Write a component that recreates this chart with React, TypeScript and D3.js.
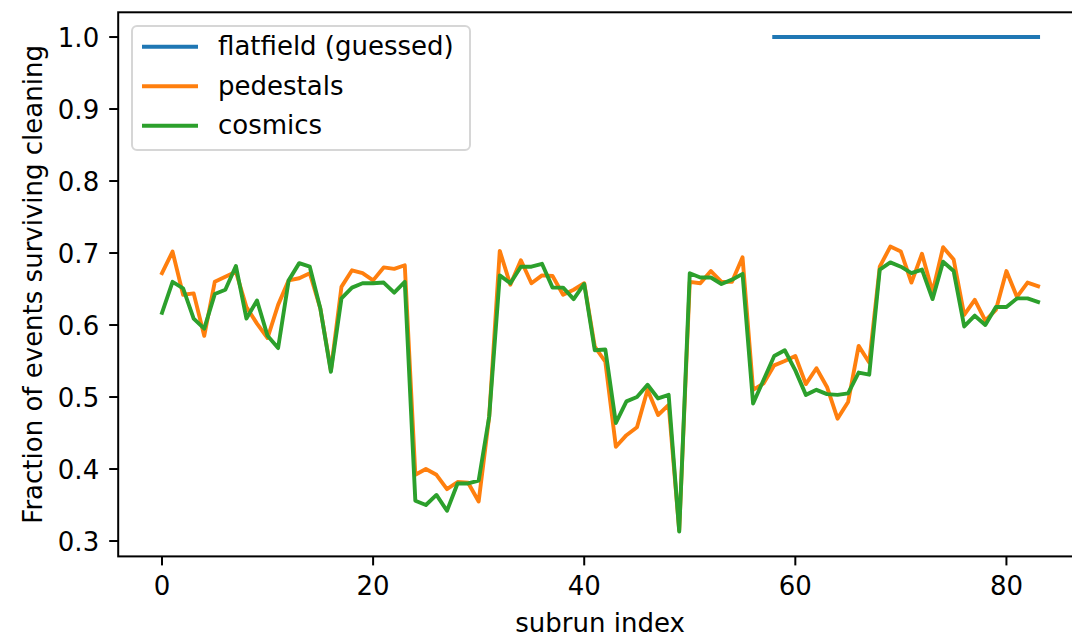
import { useEffect, useRef } from 'react';
import * as d3 from 'd3';

// values, index = subrun
const pedestals = [
  0.672, 0.702, 0.642, 0.644, 0.585, 0.660, 0.667, 0.674, 0.625, 0.602,
  0.582, 0.628, 0.662, 0.665, 0.672, 0.623, 0.537, 0.653, 0.676, 0.672,
  0.662, 0.680, 0.678, 0.683, 0.392, 0.400, 0.392, 0.372, 0.382, 0.381,
  0.355, 0.473, 0.703, 0.656, 0.690, 0.658, 0.669, 0.668, 0.642, 0.649,
  0.658, 0.570, 0.549, 0.431, 0.447, 0.458, 0.510, 0.475, 0.489, 0.315,
  0.660, 0.658, 0.675, 0.660, 0.660, 0.694, 0.510, 0.519, 0.544, 0.550,
  0.557, 0.518, 0.540, 0.514, 0.470, 0.493, 0.571, 0.548, 0.681, 0.709,
  0.702, 0.659, 0.699, 0.646, 0.708, 0.691, 0.614, 0.635, 0.606, 0.621,
  0.675, 0.639, 0.659, 0.654,
];

const cosmics = [
  0.617, 0.660, 0.651, 0.609, 0.595, 0.643, 0.649, 0.682, 0.609, 0.634,
  0.585, 0.568, 0.662, 0.686, 0.681, 0.623, 0.535, 0.637, 0.652, 0.658,
  0.658, 0.659, 0.645, 0.660, 0.356, 0.350, 0.364, 0.342, 0.380, 0.380,
  0.384, 0.473, 0.669, 0.658, 0.681, 0.681, 0.685, 0.652, 0.652, 0.636,
  0.657, 0.565, 0.566, 0.464, 0.494, 0.500, 0.517, 0.498, 0.503, 0.313,
  0.672, 0.666, 0.666, 0.657, 0.663, 0.671, 0.491, 0.524, 0.557, 0.565,
  0.537, 0.503, 0.510, 0.504, 0.503, 0.505, 0.534, 0.531, 0.677, 0.687,
  0.681, 0.672, 0.677, 0.636, 0.688, 0.675, 0.598, 0.613, 0.600, 0.625,
  0.625, 0.637, 0.637, 0.632,
];

// flatfield only exists from subrun 58 on
const flatfieldStart = 58;
const flatfield = [
  1.0, 1.0, 1.0, 1.0, 1.0, 1.0, 1.0, 1.0, 1.0, 1.0, 1.0, 1.0, 1.0,
  1.0, 1.0, 1.0, 1.0, 1.0, 1.0, 1.0, 1.0, 1.0, 1.0, 1.0, 1.0, 1.0,
];

const xTicks = [0, 20, 40, 60, 80];
const yTicks = [0.3, 0.4, 0.5, 0.6, 0.7, 0.8, 0.9, 1.0];

const seriesNames = ['flatfield (guessed)', 'pedestals', 'cosmics'];
const COLORS = ['#1f77b4', '#ff7f0e', '#2ca02c'];

const WIDTH = 1072;
const HEIGHT = 637;
const FONT = 'DejaVu Sans, sans-serif';

export default function App() {
  const svgRef = useRef<SVGSVGElement>(null);

  useEffect(() => {
    if (!svgRef.current) return;
    const svg = d3.select(svgRef.current);
    svg.selectAll('*').remove();

    // axes box (right edge falls outside the picture, like the reference)
    const left = 118.2;
    const right = 1081.9;
    const top = 12.3;
    const bottom = 556.4;

    const x = d3.scaleLinear().domain([-4.15, 87.15]).range([left, right]);
    const y = d3.scaleLinear().domain([0.27865, 1.03435]).range([bottom, top]);

    svg.append('rect').attr('width', WIDTH).attr('height', HEIGHT).attr('fill', '#fff');

    svg
      .append('clipPath')
      .attr('id', 'plot-clip')
      .append('rect')
      .attr('x', left)
      .attr('y', top)
      .attr('width', right - left)
      .attr('height', bottom - top);

    const line = d3
      .line<[number, number]>()
      .x((d) => x(d[0]))
      .y((d) => y(d[1]));

    const series: Array<Array<[number, number]>> = [
      flatfield.map((v, i) => [flatfieldStart + i, v]),
      pedestals.map((v, i) => [i, v]),
      cosmics.map((v, i) => [i, v]),
    ];

    const plot = svg.append('g').attr('clip-path', 'url(#plot-clip)');
    series.forEach((pts, i) => {
      plot
        .append('path')
        .attr('d', line(pts))
        .attr('fill', 'none')
        .attr('stroke', COLORS[i])
        .attr('stroke-width', 3.9)
        .attr('stroke-linejoin', 'round')
        .attr('stroke-linecap', 'square');
    });

    // spines
    svg
      .append('rect')
      .attr('x', left)
      .attr('y', top)
      .attr('width', right - left)
      .attr('height', bottom - top)
      .attr('fill', 'none')
      .attr('stroke', '#000')
      .attr('stroke-width', 2);

    // x ticks
    const xg = svg.append('g');
    xTicks.forEach((t) => {
      xg.append('line')
        .attr('x1', x(t))
        .attr('x2', x(t))
        .attr('y1', bottom)
        .attr('y2', bottom + 9)
        .attr('stroke', '#000')
        .attr('stroke-width', 2);
      xg.append('text')
        .attr('x', x(t))
        .attr('y', bottom + 38.5)
        .attr('text-anchor', 'middle')
        .style('font-family', FONT)
        .style('font-size', '26px')
        .text(String(t));
    });

    // y ticks
    const yg = svg.append('g');
    yTicks.forEach((t) => {
      yg.append('line')
        .attr('x1', left - 9)
        .attr('x2', left)
        .attr('y1', y(t))
        .attr('y2', y(t))
        .attr('stroke', '#000')
        .attr('stroke-width', 2);
      yg.append('text')
        .attr('x', left - 19)
        .attr('y', y(t) + 9.5)
        .attr('text-anchor', 'end')
        .style('font-family', FONT)
        .style('font-size', '26px')
        .text(t.toFixed(1));
    });

    // axis labels
    svg
      .append('text')
      .attr('x', (left + right) / 2)
      .attr('y', 631.5)
      .attr('text-anchor', 'middle')
      .style('font-family', FONT)
      .style('font-size', '26px')
      .text('subrun index');

    svg
      .append('text')
      .attr('transform', `translate(41.5, ${(top + bottom) / 2}) rotate(-90)`)
      .attr('text-anchor', 'middle')
      .style('font-family', FONT)
      .style('font-size', '26px')
      .text('Fraction of events surviving cleaning');

    // legend
    const legend = svg.append('g');
    legend
      .append('rect')
      .attr('x', 132)
      .attr('y', 26)
      .attr('width', 338)
      .attr('height', 124)
      .attr('rx', 5)
      .attr('fill', '#fff')
      .attr('fill-opacity', 0.8)
      .attr('stroke', '#d6d6d6')
      .attr('stroke-width', 2);

    seriesNames.forEach((name, i) => {
      const rowY = 46.7 + i * 39.5;
      legend
        .append('line')
        .attr('x1', 142)
        .attr('x2', 198)
        .attr('y1', rowY)
        .attr('y2', rowY)
        .attr('stroke', COLORS[i])
        .attr('stroke-width', 3.9);
      legend
        .append('text')
        .attr('x', 218)
        .attr('y', rowY + 8.7)
        .style('font-family', FONT)
        .style('font-size', '26px')
        .text(name);
    });
  }, []);

  return (
    <svg
      ref={svgRef}
      width={WIDTH}
      height={HEIGHT}
      style={{ position: 'absolute', left: 0, top: 0 }}
    />
  );
}
